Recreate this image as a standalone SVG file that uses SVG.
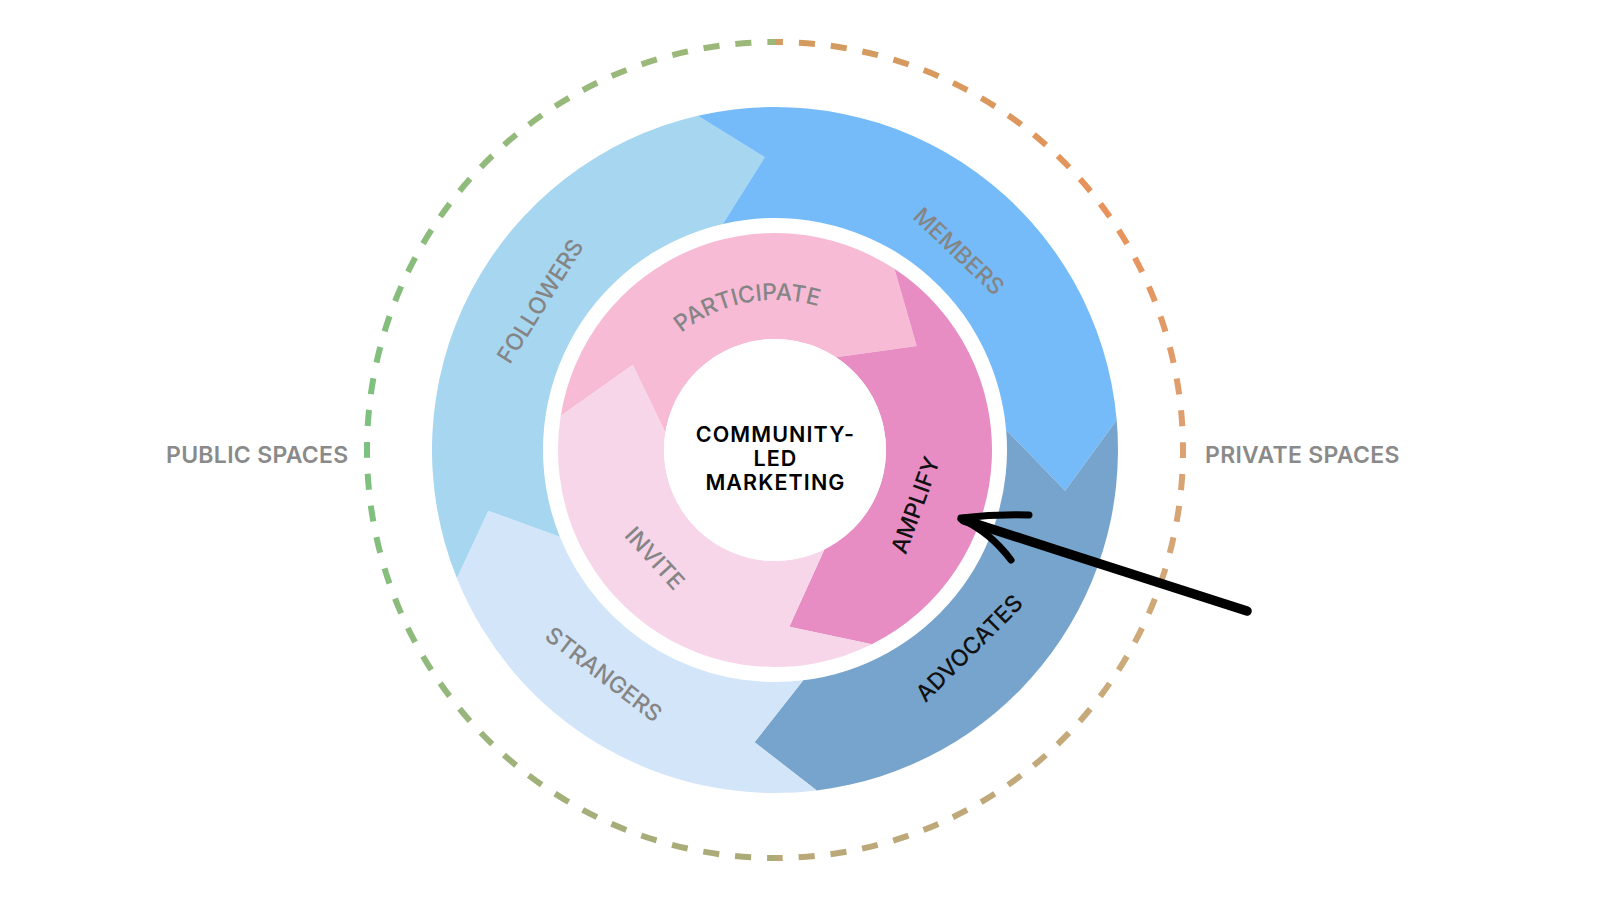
<svg xmlns="http://www.w3.org/2000/svg" xmlns:xlink="http://www.w3.org/1999/xlink" width="1600" height="900" viewBox="0 0 1600 900">
  <style>
    .lbl { font-family: Inter, "Liberation Sans", sans-serif; font-size: 23px; font-weight: 500; fill: #858585; text-anchor: middle; }
    .dark { fill: #111111; }
    .space { font-family: Inter, "Liberation Sans", sans-serif; font-size: 23px; font-weight: 600; fill: #8a8a8a; letter-spacing: 0.3px; }
    .center { font-family: Inter, "Liberation Sans", sans-serif; font-size: 21.5px; font-weight: 600; fill: #000000; text-anchor: middle; letter-spacing: 1.1px; }
    .dash { fill: none; stroke-width: 6; stroke-dasharray: 16.02 16.02; stroke-dashoffset: 8; }
    .ink { fill: none; stroke: #000000; stroke-linecap: round; stroke-linejoin: round; }
  </style>
  <defs>
    <linearGradient id="gRight" gradientUnits="userSpaceOnUse" x1="0" y1="42" x2="0" y2="858">
      <stop offset="0" stop-color="#D39B60"/>
      <stop offset="0.2" stop-color="#E8925A"/>
      <stop offset="0.5" stop-color="#DCA172"/>
      <stop offset="0.75" stop-color="#CCAA7A"/>
      <stop offset="1" stop-color="#BBA878"/>
    </linearGradient>
    <linearGradient id="gLeft" gradientUnits="userSpaceOnUse" x1="0" y1="42" x2="0" y2="858">
      <stop offset="0" stop-color="#9CB879"/>
      <stop offset="0.25" stop-color="#8ABC7B"/>
      <stop offset="0.5" stop-color="#7BC27F"/>
      <stop offset="0.75" stop-color="#8FBA7C"/>
      <stop offset="1" stop-color="#ABAB78"/>
    </linearGradient>
    <path id="arcParticipate" d="M633.17,401.16 A150,150 0 0 1 888.21,351.59"/>
  </defs>

  <rect x="0" y="0" width="1600" height="900" fill="#ffffff"/>

  <g id="spaces-boundary">
    <path class="dash" stroke="url(#gRight)" d="M775,42 A408,408 0 0 1 775,858"/>
    <path class="dash" stroke="url(#gLeft)" d="M775,858 A408,408 0 0 1 775,42"/>
  </g>

  <g id="node-public-spaces">
    <text class="space" x="166" y="463">PUBLIC SPACES</text>
  </g>
  <g id="node-private-spaces">
    <text class="space" x="1205" y="463">PRIVATE SPACES</text>
  </g>

  <g id="node-followers">
    <path fill="#A6D6F0" d="M456.98,578.49 A343,343 0 0 1 697.84,115.79 L764.77,157.18 L722.81,223.95 A232,232 0 0 0 559.89,536.91 L488.40,510.92 Z"/>
    <text class="lbl" transform="translate(540,301) rotate(-58)" x="0" y="8.4">FOLLOWERS</text>
  </g>
  <g id="node-members">
    <path fill="#75BBF9" d="M697.84,115.79 A343,343 0 0 1 1116.69,420.11 L1065.15,490.78 L1006.12,429.78 A232,232 0 0 0 722.81,223.95 L764.77,157.18 Z"/>
    <text class="lbl" transform="translate(959,251) rotate(43.5)" x="0" y="8.4">MEMBERS</text>
  </g>
  <g id="node-advocates">
    <path fill="#77A4CC" d="M1116.69,420.11 A343,343 0 0 1 816.80,790.44 L754.56,742.29 L803.27,680.27 A232,232 0 0 0 1006.12,429.78 L1065.15,490.78 Z"/>
    <text class="lbl dark" transform="translate(969,648) rotate(-45)" x="0" y="8.4">ADVOCATES</text>
  </g>
  <g id="node-strangers">
    <path fill="#D3E5F9" d="M816.80,790.44 A343,343 0 0 1 456.98,578.49 L488.40,510.92 L559.89,536.91 A232,232 0 0 0 803.27,680.27 L754.56,742.29 Z"/>
    <text class="lbl" transform="translate(604,674) rotate(37.5)" x="0" y="8.4">STRANGERS</text>
  </g>

  <g id="node-participate">
    <path fill="#F7BBD6" d="M560.67,416.05 A217,217 0 0 1 894.45,268.84 L916.7,346 L836.10,357.33 A111,111 0 0 0 665.37,432.64 L632.7,365 Z"/>
    <text class="lbl"><textPath xlink:href="#arcParticipate" href="#arcParticipate" startOffset="50%">PARTICIPATE</textPath></text>
  </g>
  <g id="node-amplify">
    <path fill="#E78DC3" d="M894.45,268.84 A217,217 0 0 1 871.83,644.20 L789.3,626.7 L824.53,549.34 A111,111 0 0 0 836.10,357.33 L916.7,346 Z"/>
    <text class="lbl dark" transform="translate(915,505) rotate(-70)" x="0" y="8.4">AMPLIFY</text>
  </g>
  <g id="node-invite">
    <path fill="#F7D6EA" d="M871.83,644.20 A217,217 0 0 1 560.67,416.05 L632.7,365 L665.37,432.64 A111,111 0 0 0 824.53,549.34 L789.3,626.7 Z"/>
    <text class="lbl" transform="translate(655,558) rotate(47.5)" x="0" y="8.4">INVITE</text>
  </g>

  <g id="node-center">
    <circle cx="775" cy="450" r="111" fill="#ffffff"/>
    <text class="center" x="775.5" y="442">COMMUNITY-</text>
    <text class="center" x="775.5" y="466">LED</text>
    <text class="center" x="775.5" y="490">MARKETING</text>
  </g>

  <g id="connectors">
    <path class="ink" stroke-width="9.5" d="M964,520 L1060,551 L1247,611"/>
    <path class="ink" stroke-width="7" d="M961,518 Q995,514 1029,515"/>
    <path class="ink" stroke-width="7" d="M961,519 Q990,532 1011,560"/>
  </g>
</svg>
